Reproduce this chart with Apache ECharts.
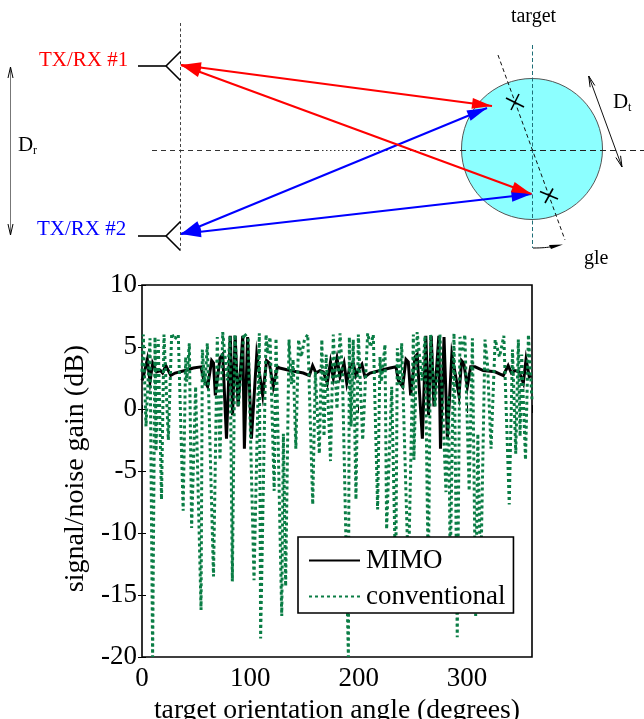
<!DOCTYPE html>
<html><head><meta charset="utf-8">
<style>html,body{margin:0;padding:0;background:#fff}#c{width:644px;height:719px}</style>
<script src="https://cdn.jsdelivr.net/npm/echarts@6/dist/echarts.min.js"></script>
</head><body><div id="c"></div>
<script>
var xTicks = [0,100,200,300];
var yTicks = [-20,-15,-10,-5,0,5,10];
var seriesNames = ['MIMO','conventional'];
var mimoAngle = [0,1.2,4.9,7.4,9.8,13.5,17,19,22,26.5,30.5,39.7,47.4,54.5,56.6,60.6,64.3,66,67.7,72,74.5,78,81.5,83.6,86,88.7,93,94.5,97.5,101,105.9,111.4,115,117.5,121.2,125,127,136.6,148.9,154.5,157.5,160.6,164.3,167.4,171,174,176.6,180,182.8,186.5,189,192,195,197.5,200.6,203,205.8,210.5,219.7,229,234.5,236.6,240.6,243.7,245.8,248,252,254,258.8,262,264.5,267,269.5,274,275.5,278.8,281.9,286,292.6,295,297,300.3,303.4,307.4,315,325.8,333.5,338,341,344.3,348,352,354.5,357.5,359];
var mimoGain = [2.3,2.6,4,2.2,3.7,3,3.1,2.9,3.5,2.7,2.9,3.1,3.3,3.4,2.5,1.8,3.9,3.7,1.1,4.1,4.4,-2.4,5.9,-0.5,5.9,0.2,5.9,-3.2,5.8,-2.4,4.4,1.1,3.9,3.7,1.8,3.4,3.3,3.1,2.9,2.7,3.5,2.9,3.1,3,2.1,3.8,2.5,4.1,2.6,3.7,2.1,3.5,3.7,2.7,3.3,3.6,2.6,2.9,3.1,3.3,3.4,2.3,1.8,4,3.8,1.1,4.2,4.4,-2.4,5.9,-0.5,5.9,0.2,5.9,-3.2,5.8,-2.4,4.4,1.1,3.9,3.7,1.8,3.4,3.4,3.1,3,2.7,3.5,2.9,3.1,3,2.1,4,2.6,2.7];
var convAngle = [0,1.2,3.7,7.4,9.8,12,13,15,18,20.3,24.3,27.4,30,33.5,38,40.3,41.2,43.7,45.8,49.5,54.5,55.7,58,60.3,66,69.5,72,74.5,78.8,81.2,83.4,85.8,89,94,98,103.4,108.3,109.5,114.5,116,118.2,122,123.7,129,130.5,132.6,135.7,138,139.5,142,144.5,147,150,153,157.6,160,163.7,166,168,170,174,176.6,180,182.8,185,190.5,191.4,193,195,197.5,199.7,203.7,208.3,211,213.5,217.5,219.7,221,224.3,225.8,230.5,234.2,235.7,238,239.7,245.9,250.5,251,254,258.5,261.3,264.3,266.4,270.5,275,280.6,283,284.5,288,291,293.5,296,298,302,305,308,310,312.6,316.6,319,322.2,326,330,334,339,342,345,347.4,349,350.5,354,356.7,360];
var convGain = [3,6,-1.4,5.7,-20,5.8,-3.4,5.6,-7.3,6,-2.5,6.1,5.6,6,-8.2,4.2,2.2,5.3,-9.6,1.8,-16.2,4.8,1.9,5.3,-13.5,5.8,-4.1,6.2,2.3,5.9,-13.9,6,0.2,6.1,5.7,-13.8,6.1,-18.5,6,4.5,5.8,-6.6,5.7,-16.7,-2,-14.3,5.6,2,4,-3.2,5.6,4.2,5.6,6,-7.7,3,-3.6,5.6,-2.2,4.4,-4.2,6,0,6.1,3,-20,5.8,-1.4,5.6,-7.3,6,-2.5,6.1,5,6,-8.1,4.2,2.2,5.2,-9.7,1.8,-14,4.9,2,5.3,-13.5,6,-4.1,6.2,2.3,5.9,-13.9,6,0.2,6,-6.7,1,-13,6.1,-18.4,5.8,4.6,6,-6.6,5.7,-16.7,-2,-14,5.6,3.5,-3.2,5.6,4.2,5.9,-7.7,4.8,-3.6,5.6,-2.2,4.4,-4.1,6,0.7];

function zip(a,b){return a.map(function(v,i){return [v,b[i]];});}
var serif = '"Liberation Serif","Times New Roman",serif';

/* schematic above the plot */
var g = [];
function seg(x1,y1,x2,y2,color,w,dash){
  g.push({type:'line',silent:true,shape:{x1:x1,y1:y1,x2:x2,y2:y2},style:{stroke:color,lineWidth:w,lineDash:dash||null}});
}
function head(tx,ty,fx,fy,color,len,wid){
  var dx=fx-tx,dy=fy-ty,l=Math.hypot(dx,dy);dx/=l;dy/=l;
  var bx=tx+dx*len,by=ty+dy*len;
  g.push({type:'polygon',silent:true,shape:{points:[[tx,ty],[bx-dy*wid/2,by+dx*wid/2],[bx+dy*wid/2,by-dx*wid/2]]},style:{fill:color}});
}
function arrow(x1,y1,x2,y2,color){
  seg(x1,y1,x2,y2,color,2);
  head(x1,y1,x2,y2,color,20,11);
  head(x2,y2,x1,y1,color,20,11);
}
function openArrow(x1,y1,x2,y2,color){
  seg(x1,y1,x2,y2,color,1);
  [[x1,y1,x2,y2],[x2,y2,x1,y1]].forEach(function(p){
    var dx=p[2]-p[0],dy=p[3]-p[1],l=Math.hypot(dx,dy);dx/=l;dy/=l;
    var bx=p[0]+dx*11,by=p[1]+dy*11;
    seg(p[0],p[1],bx-dy*2.5,by+dx*2.5,'#000',1);
    seg(p[0],p[1],bx+dy*2.5,by-dx*2.5,'#000',1);
  });
}
function txt(x,y,s,color,size,align){
  g.push({type:'text',silent:true,x:x,y:y,style:{text:s,fill:color,font:size+'px '+serif,textAlign:align||'left',textVerticalAlign:'middle'}});
}
g.push({type:'circle',silent:true,shape:{cx:532,cy:149,r:70.5},style:{fill:'#8cffff',stroke:'#555',lineWidth:1}});
seg(180.5,23,180.5,249,'#444',1,[3,2.5]);
seg(152,150.5,322,150.5,'#333',1,[5,4]);
seg(322,150.5,400,150.5,'#333',1,[1.5,2.5]);
seg(400,150.5,644,150.5,'#222',1,[6,4]);
seg(532.5,45,532.5,248,'#1f6f78',1,[4,2.5]);
seg(498,55,565,240,'#111',1,[4,3]);
[[138,66],[138,236]].forEach(function(a){
  seg(a[0],a[1],166,a[1],'#000',1.6);
  seg(166,a[1],180.5,a[1]-14.5,'#000',1.6);
  seg(166,a[1],180.5,a[1]+14.5,'#000',1.6);
});
seg(506,98,524,107,'#000',1.6);
seg(519,94,511,110,'#000',1.6);
seg(540,191.5,558,199,'#000',1.6);
seg(553,188.5,545,203,'#000',1.6);
arrow(181,234,487,108,'#0000ff');
arrow(181,234,531.5,194,'#0000ff');
arrow(181,65,492,106,'#ff0000');
arrow(181,65,531.5,194,'#ff0000');
openArrow(10.5,67,10.5,235,'#777');
openArrow(588.7,76,622,167,'#111');
g.push({type:'bezierCurve',silent:true,shape:{x1:533,y1:248,cpx1:542,cpy1:248,cpx2:548,cpy2:247.5,x2:552,y2:246.5},style:{stroke:'#000',lineWidth:1,fill:null}});
g.push({type:'polygon',silent:true,shape:{points:[[563,244.5],[549,245],[551,249]]},style:{fill:'#000'}});
txt(39,60,'TX/RX #1','#ff0000',21);
txt(37,229,'TX/RX #2','#0000ff',21);
txt(18,145,'D','#000',21);
txt(33,151,'r','#000',12);
txt(613,102,'D','#000',21);
txt(628,108,'t','#000',12);
txt(533.5,17,'target','#000',20,'center');
txt(584,259,'gle','#000',20);

var frameAxisX={type:'value',position:'top',min:0,max:360,interval:100,axisLine:{show:false},axisLabel:{show:false},splitLine:{show:false},axisTick:{inside:true,length:4,lineStyle:{color:'#000',width:1}}};
var frameAxisY={type:'value',position:'right',min:-20,max:10,interval:5,axisLine:{show:false},axisLabel:{show:false},splitLine:{show:false},axisTick:{inside:true,length:4,lineStyle:{color:'#000',width:1}}};

var chart=echarts.init(document.getElementById('c'),null,{renderer:'canvas'});
chart.setOption({
  animation:false,
  backgroundColor:'#fff',
  graphic:g,
  grid:{left:142,top:285,width:390,height:372,show:true,borderColor:'#000',borderWidth:1.6,backgroundColor:'transparent',containLabel:false,outerBoundsMode:'none'},
  legend:{orient:'vertical',left:298,top:537,padding:[10,8,3,10],itemGap:9,itemWidth:51,itemHeight:14,backgroundColor:'#fff',borderColor:'#000',borderWidth:1.6,borderRadius:0,
    itemStyle:{opacity:0},
    data:seriesNames,textStyle:{fontFamily:serif,fontSize:27,color:'#000',padding:[0,0,0,1]}},
  xAxis:[{type:'value',min:0,max:360,interval:100,
    axisLine:{show:false},splitLine:{show:false},
    axisTick:{inside:true,length:4,lineStyle:{color:'#000',width:1}},
    axisLabel:{fontFamily:serif,fontSize:27,color:'#000',margin:8,formatter:function(v){return xTicks.indexOf(v)>=0?String(v):'';}},
    name:'target orientation angle (degrees)',nameLocation:'middle',nameGap:38,nameTextStyle:{fontFamily:serif,fontSize:27.7,color:'#000'}},frameAxisX],
  yAxis:[{type:'value',min:-20,max:10,interval:5,
    axisLine:{show:false},splitLine:{show:false},
    axisTick:{inside:true,length:4,lineStyle:{color:'#000',width:1}},
    axisLabel:{fontFamily:serif,fontSize:27,color:'#000',margin:5,formatter:function(v){return yTicks.indexOf(v)>=0?String(v):'';}},
    name:'signal/noise gain (dB)',nameLocation:'middle',nameGap:45,nameTextStyle:{fontFamily:serif,fontSize:28,color:'#000',padding:[0,0,0,5]}},frameAxisY],
  series:[
    {name:seriesNames[0],type:'line',symbol:'none',clip:true,data:zip(mimoAngle,mimoGain),lineStyle:{color:'#000',width:3,join:'miter'},itemStyle:{color:'#000'}},
    {name:seriesNames[1],type:'line',symbol:'none',clip:true,data:zip(convAngle,convGain),lineStyle:{color:'#0a7d45',width:3,type:[3,3]},itemStyle:{color:'#0a7d45'}}
  ]
});
</script></body></html>
